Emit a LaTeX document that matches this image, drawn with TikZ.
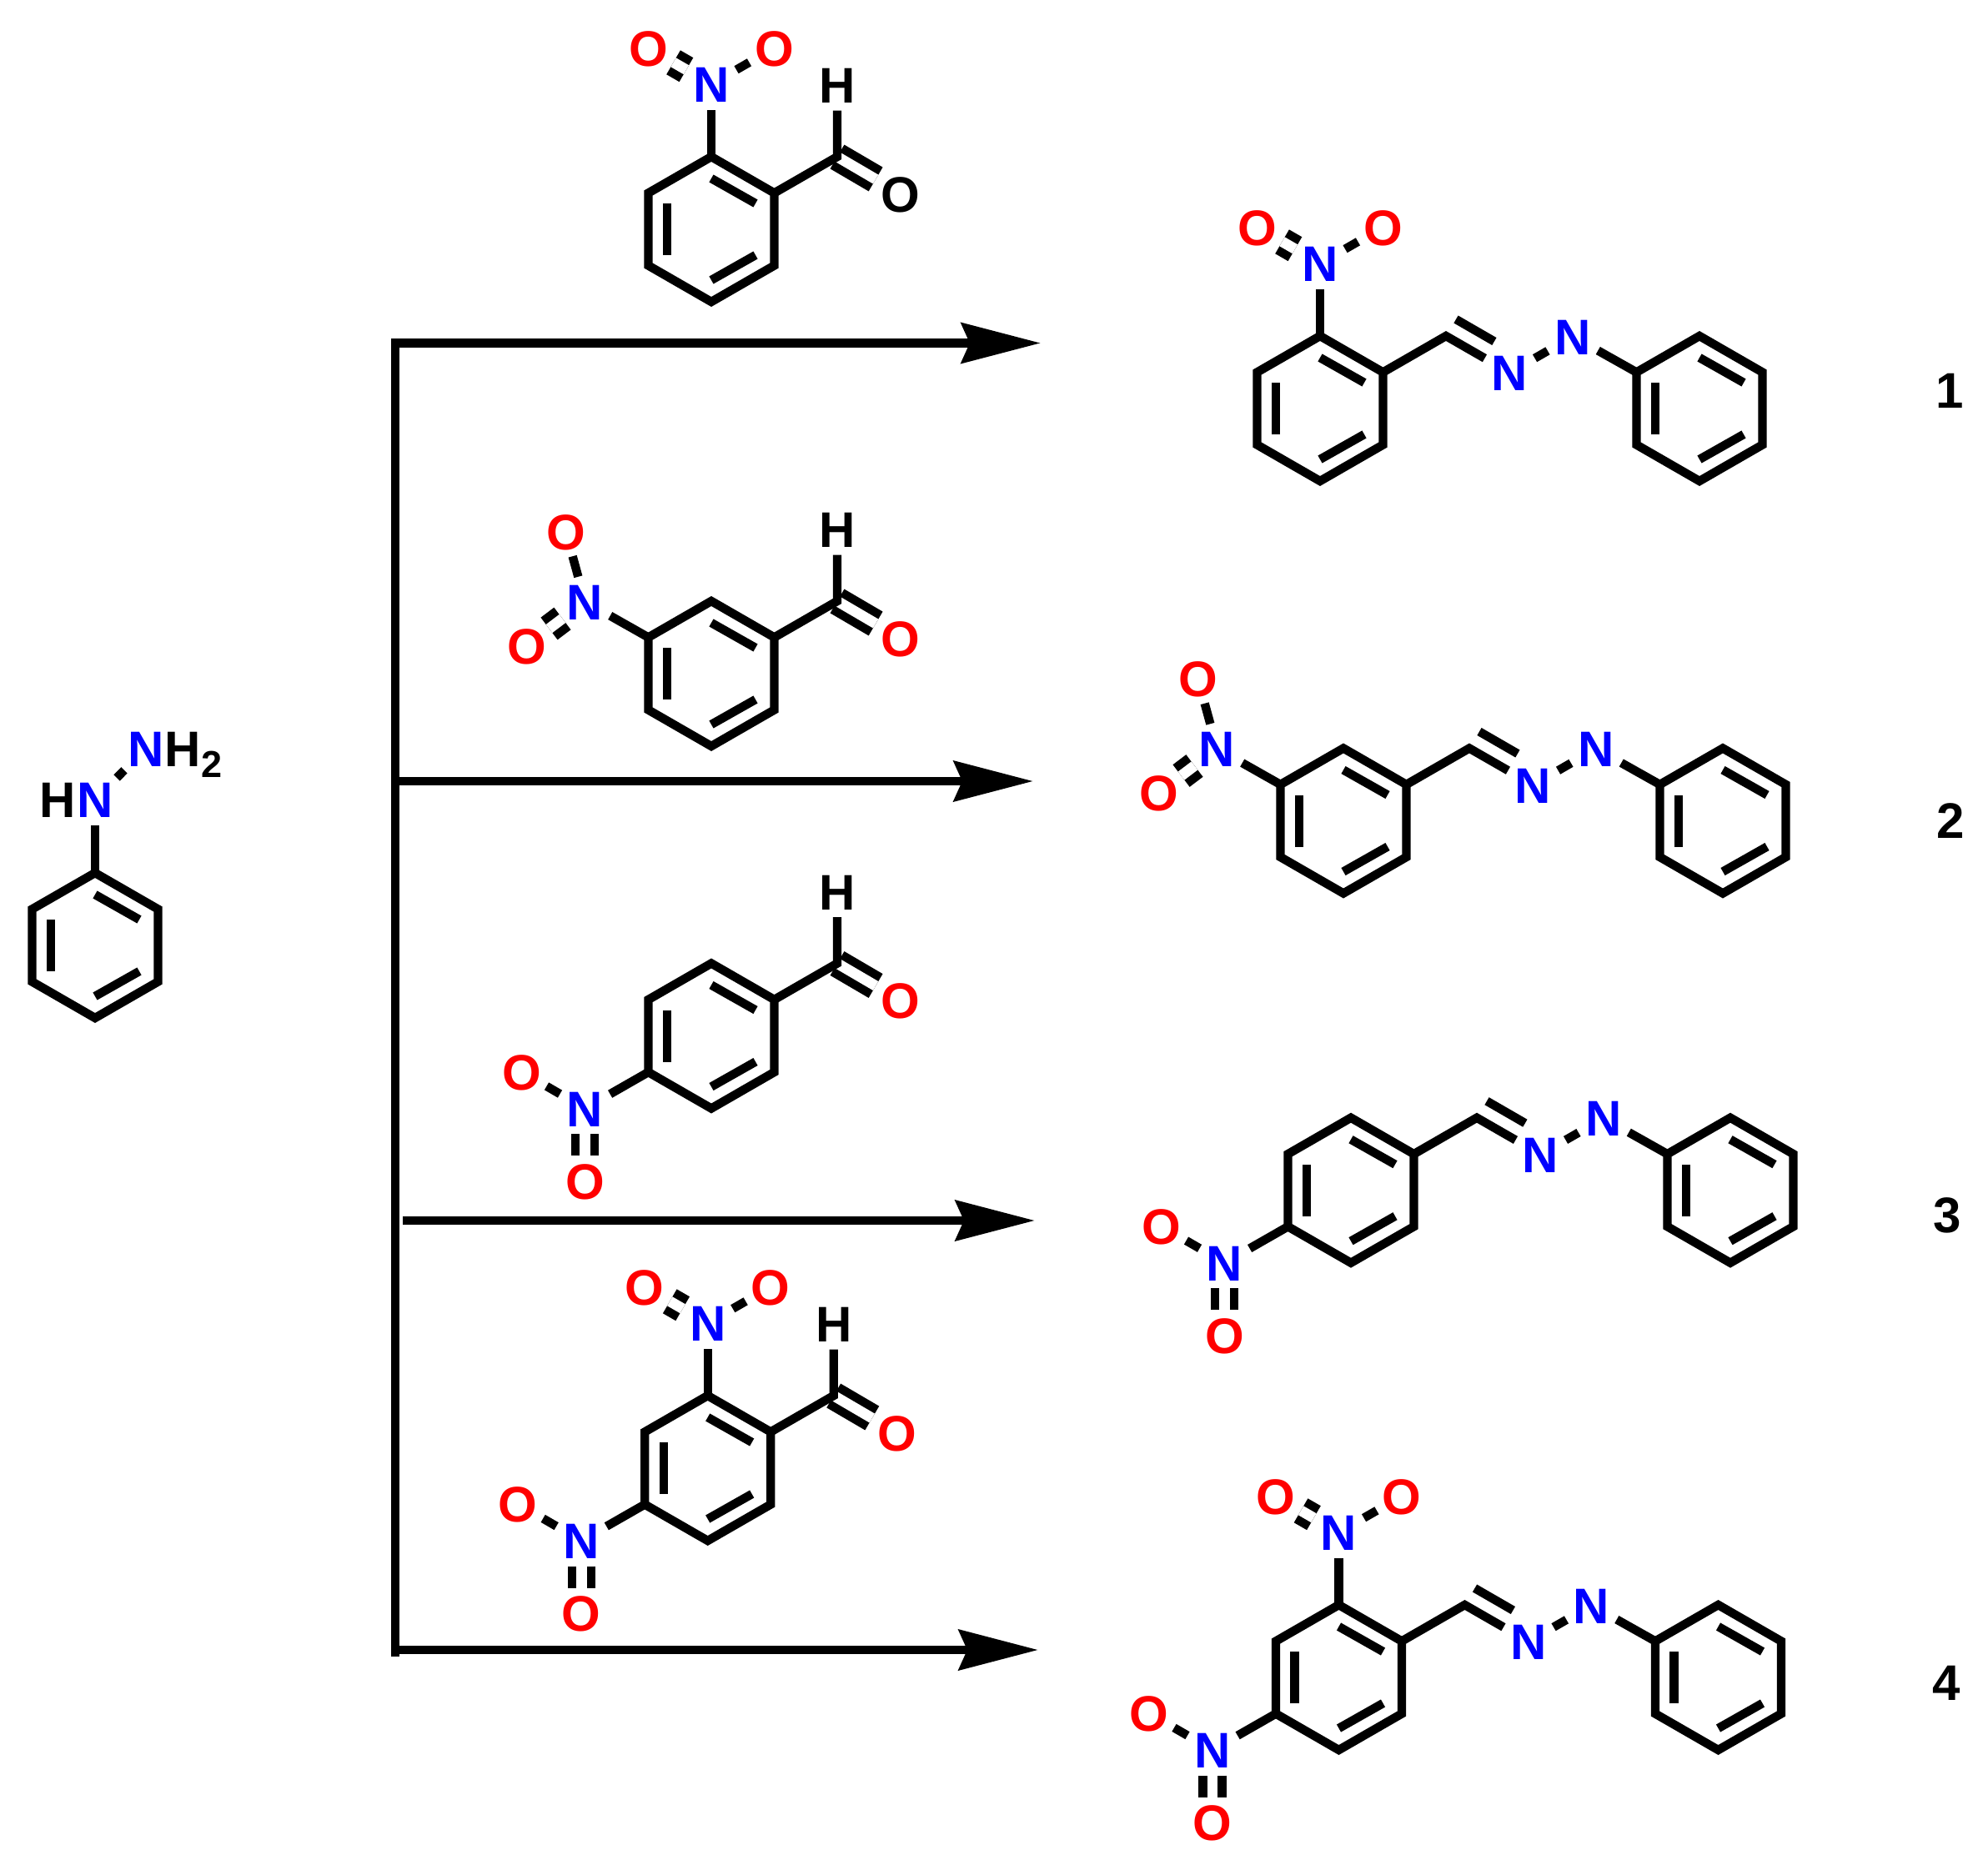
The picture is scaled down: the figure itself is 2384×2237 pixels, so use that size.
\documentclass[tikz,border=0pt]{standalone}
\usepackage{fontspec}
\setmainfont{Liberation Sans}
\usetikzlibrary{calc,shapes.geometric,arrows.meta}
\definecolor{atomblue}{RGB}{0,0,255}
\definecolor{atomred}{RGB}{255,0,0}
\tikzset{
  bond/.style={line width=5.2bp,line cap=butt,line join=miter,black},
  dbl/.style={line width=5.2bp,double=white,double distance=6.3bp,line cap=butt,black},
  atom/.style={ellipse,inner sep=0pt,outer sep=0pt,minimum width=36.5bp,minimum height=30.5bp,
    font=\fontsize{30bp}{36bp}\selectfont\bfseries,text height=21.5bp,text depth=0pt},
  natom/.style={atom,text=atomblue},
  oatom/.style={atom,text=atomred},
  katom/.style={atom,text=black},
  subscr/.style={inner sep=0pt,font=\fontsize{22.5bp}{27bp}\selectfont\bfseries,text height=16bp,text depth=0pt},
  rxn/.style={line width=5.4bp,line cap=butt,-{Stealth[length=47.5bp,width=24bp,inset=5bp]}},
  trunk/.style={line width=5.2bp,line cap=butt},
}
\newcommand{\ringat}[3]{%
  \begin{scope}[shift={(#2,#3)}]
    \coordinate (#1t) at (0,-87);
    \coordinate (#1ur) at (75.5,-43.5);
    \coordinate (#1lr) at (75.5,43.5);
    \coordinate (#1b) at (0,87);
    \coordinate (#1ll) at (-75.5,43.5);
    \coordinate (#1ul) at (-75.5,-43.5);
    \coordinate (#1ia) at (0,-61);
    \coordinate (#1ib) at (53,-31);
    \coordinate (#1ic) at (53,31);
    \coordinate (#1id) at (0,61);
    \coordinate (#1ie) at (-53,31);
    \coordinate (#1if) at (-53,-31);
    \draw[bond] (#1t) -- (#1ur) -- (#1lr) -- (#1b) -- (#1ll) -- (#1ul) -- cycle;
    \draw[bond] (#1ia) -- (#1ib);
    \draw[bond] (#1ic) -- (#1id);
    \draw[bond] (#1ie) -- (#1if);
  \end{scope}}
% prefix, ring vertex, N offset, double O offset, single O offset (offsets relative to N)
\newcommand{\nitro}[8]{%
  \node[natom] (#1n) at ($(#2)+(#3,#4)$) {N};
  \node[oatom] (#1d) at ($(#1n)+(#5,#6)$) {O};
  \node[oatom] (#1s) at ($(#1n)+(#7,#8)$) {O};
  \draw[bond] (#2) -- (#1n);
  \draw[dbl] (#1n) -- (#1d);
  \draw[bond] (#1n) -- (#1s);}
\newcommand{\nitrotop}[2]{\nitro{#1}{#2}{0}{-87}{-75.5}{-43.5}{75.5}{-43.5}}
\newcommand{\nitrometa}[2]{\nitro{#1}{#2}{-76}{-43}{-70}{53}{-23}{-84}}
\newcommand{\nitropara}[2]{\nitro{#1}{#2}{-76}{43.5}{0}{87}{-76}{-44}}
% prefix, ring prefix, style of O
\newcommand{\aldehyde}[3]{%
  \coordinate (#1c) at ($(#2ur)+(75.5,-43.5)$);
  \node[katom] (#1h) at ($(#1c)+(0,-86)$) {H};
  \node[#3] (#1o) at ($(#1c)+(76,44.5)$) {O};
  \draw[dbl] (#1c) -- (#1o);
  \draw[bond] (#2ur) -- (#1c) -- (#1h);}
% prefix, x, y of first ring
\newcommand{\hydrazone}[3]{%
  \ringat{#1}{#2}{#3}
  \coordinate (#1c) at ($(#1ur)+(75.5,-43.5)$);
  \node[natom] (#1na) at ($(#1c)+(76.5,44)$) {N};
  \node[natom] (#1nb) at ($(#1na)+(75.5,-43.5)$) {N};
  \ringat{#1p}{#2+455}{#3}
  \coordinate (#1ua) at ($(#1c)+(12,-20)$);
  \coordinate (#1ub) at ($(#1ua)+(45.9,26.5)$);
  \draw[bond] (#1ur) -- (#1c) -- (#1na);
  \draw[bond] (#1ua) -- (#1ub);
  \draw[bond] (#1na) -- (#1nb);
  \draw[bond] (#1nb) -- (#1pul);}
\begin{document}
\begin{tikzpicture}[x=0.5bp,y=-0.5bp]
\useasboundingbox (0,0) rectangle (2384,2237);
% phenylhydrazine
\ringat{ph}{114}{1134}
\node[natom] (phn) at (114,959.3) {N};
\node[katom] (phh) at (69.5,959.3) {H};
\node[natom] (phm) at (175,897.5) {N};
\node[katom] (phi) at (219,897.5) {H};
\node[subscr] (phs) at (254.5,916.3) {2};
\draw[bond] (pht) -- (phn);
\draw[bond,shorten <=2bp,shorten >=2bp] (phn) -- (phm);
% aldehydes
\ringat{ra}{853}{275}
\aldehyde{ac}{ra}{katom}
\nitrotop{an}{rat}
\ringat{rb}{853}{808}
\aldehyde{bc}{rb}{oatom}
\nitrometa{bn}{rbul}
\ringat{rc}{853}{1242.5}
\aldehyde{cc}{rc}{oatom}
\nitropara{cn}{rcll}
\ringat{rd}{848.7}{1761}
\aldehyde{dc}{rd}{oatom}
\nitrotop{dn}{rdt}
\nitropara{dm}{rdll}
% products
\hydrazone{pa}{1583}{490}
\nitrotop{pan}{pat}
\hydrazone{pb}{1611}{984.5}
\nitrometa{pbn}{pbul}
\hydrazone{pc}{1620}{1427.7}
\nitropara{pcn}{pcll}
\hydrazone{pd}{1605.5}{2012}
\nitrotop{pdn}{pdt}
\nitropara{pdm}{pdll}
% reaction scheme
\coordinate (ttop) at (474,406);
\coordinate (tbot) at (474,1987);
\coordinate (ea) at (1248,411.5);
\coordinate (sa) at (474,411.5);
\coordinate (eb) at (1239,937);
\coordinate (sb) at (474,937);
\coordinate (ec) at (1241,1464);
\coordinate (sc) at (483,1464);
\coordinate (ed) at (1245,1979);
\coordinate (sd) at (474,1979);
\draw[trunk] (ttop) -- (tbot);
\draw[rxn] (sa) -- (ea);
\draw[rxn] (sb) -- (eb);
\draw[rxn] (sc) -- (ec);
\draw[rxn] (sd) -- (ed);
% compound numbers
\node[katom] (la) at (2338,467.5) {1};
\node[katom] (lb) at (2339,984) {2};
\node[katom] (lc) at (2335,1457) {3};
\node[katom] (ld) at (2334,2018) {4};
\end{tikzpicture}
\end{document}
